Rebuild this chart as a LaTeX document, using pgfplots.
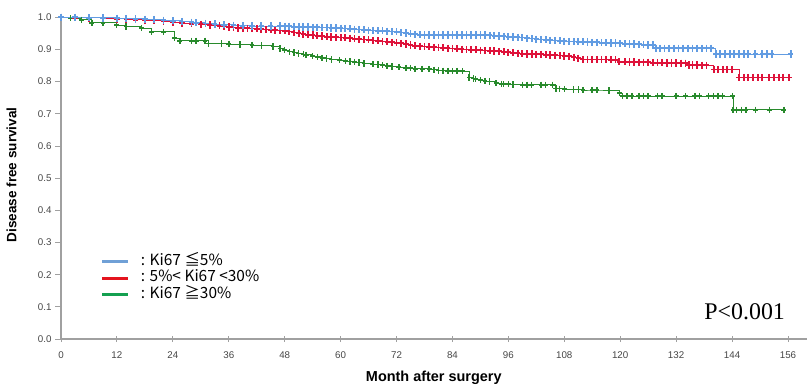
\documentclass[border=0pt]{standalone}
\usepackage{fontspec}
\setmainfont{Liberation Sans}
\newfontfamily\cjk{Noto Sans CJK JP}
\newfontfamily\serifP{Liberation Serif}
\usepackage{pgfplots}
\usepackage{pgfplotstable}
\pgfplotsset{compat=1.18}
\definecolor{cblue}{RGB}{98,156,226}
\definecolor{cred}{RGB}{222,18,58}
\definecolor{cgreen}{RGB}{40,138,44}
\definecolor{lblue}{RGB}{112,160,214}
\definecolor{lred}{RGB}{228,20,30}
\definecolor{lgreen}{RGB}{20,160,80}
\definecolor{axgray}{RGB}{160,160,160}
\definecolor{tickgray}{RGB}{70,70,70}

\pgfplotstableread{
m s
0 1.000
3 1.000
6 0.999
9 0.998
12 0.997
14 0.996
16 0.995
18 0.994
20 0.993
22 0.991
24 0.989
26 0.987
28 0.985
29 0.983
31 0.981
33 0.979
35 0.977
37 0.975
39 0.974
41 0.973
43 0.973
45 0.973
47 0.973
48 0.972
49 0.972
50 0.971
51 0.971
52 0.970
53 0.970
54 0.969
55 0.969
56 0.968
57 0.968
58 0.967
59 0.967
60 0.966
61 0.965
62 0.964
63 0.963
64 0.962
65 0.961
66 0.960
67 0.959
68 0.958
69 0.958
70 0.957
71 0.956
72 0.955
73 0.953
74 0.951
75 0.949
76 0.947
77 0.946
78 0.945
79 0.945
80 0.945
81 0.945
82 0.945
83 0.945
84 0.945
85 0.945
86 0.945
87 0.945
88 0.945
89 0.945
90 0.945
91 0.945
92 0.944
93 0.943
94 0.942
95 0.941
96 0.940
97 0.939
98 0.938
99 0.937
100 0.935
101 0.934
102 0.932
103 0.931
104 0.930
105 0.929
106 0.928
107 0.927
108 0.926
109 0.925
110 0.925
111 0.924
112 0.924
113 0.923
114 0.922
115 0.922
116 0.921
117 0.921
118 0.920
119 0.920
120 0.919
121 0.918
122 0.917
123 0.917
124 0.916
125 0.915
126 0.914
127 0.914
127.6 0.904
128.5 0.904
129.5 0.904
130.5 0.904
131.5 0.904
132.5 0.904
133.5 0.904
134.5 0.904
135.5 0.904
136.5 0.904
137.5 0.904
138.5 0.904
139.5 0.904
140.5 0.886
141.5 0.886
142.5 0.886
143.5 0.886
144.5 0.886
145.5 0.886
146.5 0.886
147.5 0.886
149 0.886
150.5 0.886
151.5 0.886
152.5 0.886
156.6 0.886
}\bluedata

\pgfplotstableread{
m s
0 1.000
3 0.999
6 0.998
9 0.997
12 0.995
14 0.994
16 0.992
18 0.991
20 0.990
22 0.988
24 0.985
26 0.982
28 0.980
30 0.978
32 0.976
34 0.974
35 0.972
36 0.970
37 0.968
38 0.967
39 0.966
40 0.966
41 0.965
42 0.964
43 0.963
44 0.962
45 0.961
46 0.960
47 0.959
48 0.958
49 0.956
50 0.953
51 0.950
52 0.948
53 0.946
54 0.945
55 0.943
56 0.942
57 0.940
58 0.939
59 0.938
60 0.937
61 0.936
62 0.935
63 0.933
64 0.932
65 0.931
66 0.930
67 0.928
68 0.927
69 0.925
70 0.924
71 0.922
72 0.921
73 0.919
74 0.917
75 0.914
76 0.912
77 0.910
78 0.909
79 0.908
80 0.907
81 0.906
82 0.905
83 0.904
84 0.903
85 0.902
86 0.901
87 0.900
88 0.899
89 0.899
90 0.898
91 0.897
92 0.896
93 0.895
94 0.894
95 0.893
96 0.891
97 0.890
98 0.888
99 0.887
100 0.886
101 0.886
102 0.885
103 0.885
104 0.884
105 0.883
106 0.882
107 0.881
108 0.880
109 0.879
110 0.876
111 0.873
112 0.869
113 0.869
114 0.869
115 0.869
116 0.869
117 0.869
118 0.868
119 0.868
119.8 0.862
121 0.862
122 0.861
123 0.861
124 0.860
125 0.860
126 0.860
127 0.859
128 0.859
129 0.859
130 0.858
131 0.858
132 0.858
133 0.857
134 0.857
134.7 0.852
135.5 0.852
136.5 0.852
137.5 0.851
138.5 0.851
140.1 0.838
141 0.838
142 0.838
143 0.838
144 0.838
145.5 0.813
146.5 0.813
147.5 0.813
148.5 0.813
149.5 0.813
150.5 0.813
152 0.813
153 0.813
154 0.813
155 0.813
156.2 0.813
}\reddata

\pgfplotstableread{
m s
0 1.000
2 0.997
4.4 0.992
6.6 0.983
9 0.983
11.9 0.976
14 0.972
17.3 0.966
19.4 0.955
22 0.955
24.4 0.935
25.5 0.927
28 0.927
29 0.927
30.9 0.927
31.6 0.919
34.4 0.918
36 0.917
38.4 0.916
41 0.914
43 0.912
45.5 0.909
47 0.903
48 0.898
49 0.893
50 0.890
51 0.887
52 0.885
52.6 0.883
54 0.879
55 0.877
56 0.874
57 0.872
58 0.869
59.8 0.867
61 0.864
62 0.862
63 0.861
64 0.859
65 0.857
66.9 0.854
68 0.853
69 0.851
70 0.849
71 0.847
72.5 0.845
74 0.843
75 0.842
76 0.840
77.5 0.840
79 0.839
80 0.837
81 0.835
82 0.834
83 0.833
84 0.833
85 0.833
86.2 0.833
87.6 0.813
88.5 0.810
89 0.808
90 0.805
91 0.802
92 0.800
93.4 0.795
94.5 0.793
95 0.792
96 0.792
97 0.791
99 0.790
100 0.790
101 0.790
103 0.790
104 0.790
105.5 0.790
106.2 0.779
107 0.778
108 0.777
110 0.775
111 0.775
112 0.774
114 0.774
115 0.774
117.6 0.772
119.8 0.764
120.5 0.755
121.5 0.755
122.5 0.755
124 0.755
125 0.755
126 0.755
128 0.755
129 0.755
132 0.755
134 0.755
136 0.755
137 0.755
139 0.755
140 0.755
141 0.755
142 0.755
144.1 0.755
144.2 0.712
145 0.712
146 0.712
147 0.712
149 0.712
152 0.712
155.1 0.712
}\greendata

\begin{document}
\begin{tikzpicture}
\begin{axis}[
  at={(0,0)}, anchor=south west,
  scale only axis,
  width=745.6bp, height=321.7bp,
  xmin=0, xmax=160, ymin=0, ymax=1,
  clip=false,
  axis lines*=left,
  axis line style={draw=axgray, line width=1.2bp},
  xtick={0,12,...,156},
  ytick={0,0.1,...,1.01},
  xtick align=center,
  ytick align=outside,
  major tick length=6bp,
  tick style={draw=axgray, line width=0.9bp},
  ticklabel style={font=\fontsize{9.8}{11}\selectfont, text=tickgray},
  xticklabel style={yshift=-6bp},
  /pgf/number format/assume math mode=true,
  yticklabel style={/pgf/number format/.cd, fixed, fixed zerofill, precision=1},
  xlabel={Month after surgery},
  ylabel={Disease free survival},
  xlabel style={font=\bfseries\fontsize{14.5}{16}\selectfont, at={(axis description cs:0.5,0)}, anchor=north, yshift=-29bp},
  ylabel style={font=\bfseries\fontsize{13.6}{15}\selectfont, at={(axis description cs:0,0.51)}, anchor=south, yshift=41bp},
  legend image code/.code={\draw[#1, line width=3bp] (0bp,0bp) -- (26bp,0bp);},
  legend style={draw=none, fill=none, at={(axis cs:8.5,0.262)}, anchor=north west,
    inner sep=0pt, row sep=3bp,
    font=\cjk\fontsize{15.5}{17}\selectfont,
    nodes={inner sep=0pt, text height=10.5bp, text depth=3bp},
    /tikz/every odd column/.append style={column sep=11bp}},
  legend cell align=left,
]
\addlegendimage{lblue}
\addlegendentry{: Ki67 ≦5\%}
\addlegendimage{lred}
\addlegendentry{: 5\%< Ki67 <30\%}
\addlegendimage{lgreen}
\addlegendentry{: Ki67 ≧30\%}

\addplot[forget plot, const plot, cgreen, line width=0.9bp, mark=+, mark size=3.2bp, mark options={line width=1.5bp, xscale=0.75}] table[x=m, y=s] {\greendata};
\addplot[forget plot, const plot, cred, line width=0.9bp, mark=+, mark size=3.6bp, mark options={line width=1.8bp, xscale=0.75}] table[x=m, y=s] {\reddata};
\addplot[forget plot, const plot, cblue, line width=0.9bp, mark=+, mark size=3.6bp, mark options={line width=1.8bp, xscale=0.75}] table[x=m, y=s] {\bluedata};

\node[font=\serifP\fontsize{24}{26}\selectfont, text=black] at (axis cs:146.7,0.084) {P<0.001};
\end{axis}
\pgfresetboundingbox
\path[use as bounding box] (-61bp,-48bp) rectangle (751bp,339bp);
\end{tikzpicture}
\end{document}
